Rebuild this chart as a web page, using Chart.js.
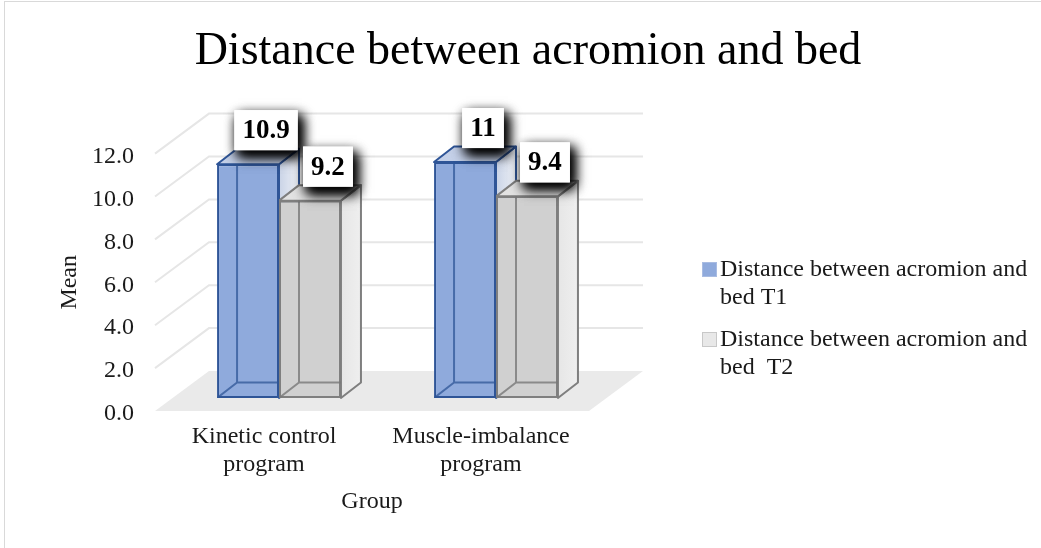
<!DOCTYPE html>
<html>
<head>
<meta charset="utf-8">
<script src="https://cdn.jsdelivr.net/npm/chart.js@4.4.1/dist/chart.umd.min.js"></script>
<style>
  html, body { margin: 0; padding: 0; background: #fff; }
  #wrap { position: relative; width: 1041px; height: 548px; overflow: hidden; }
  #frame { position: absolute; left: 4px; top: 1px; width: 1100px; height: 600px; border: 1px solid #d9d9d9; }
  canvas { position: absolute; left: 0; top: 0; }
</style>
</head>
<body>
<div id="wrap">
  <div id="frame"></div>
  <canvas id="chart" width="1041" height="548"></canvas>
</div>
<script>
// data
const categories  = [['Kinetic control', 'program'], ['Muscle-imbalance', 'program']];
const seriesNames = ['Distance between acromion and bed T1', 'Distance between acromion and bed  T2'];
const t1Values    = [10.9, 11];
const t2Values    = [9.2, 9.4];
const yTicks      = [0, 2, 4, 6, 8, 10, 12];

const SERIF = "'Times New Roman', 'Liberation Serif', serif";
Chart.defaults.font.family = SERIF;
Chart.defaults.color = '#1a1a1a';

// 3D offsets relative to the plane of the bars' front faces
const FRONT = { dx: -15.5, dy: 13 };   // front edge of floor
const BACK  = { dx: 38.5, dy: -27 };   // back wall
const DEPTH = { dx: 20, dy: -15.5 };   // bar depth

function poly(ctx, pts) {
    ctx.beginPath();
    ctx.moveTo(pts[0][0], pts[0][1]);
    for (let i = 1; i < pts.length; i++) ctx.lineTo(pts[i][0], pts[i][1]);
    ctx.closePath();
}

function barGeom(bar) {
    const p = bar.getProps(['x', 'y', 'base', 'width'], true);
    return { l: p.x - p.width / 2, r: p.x + p.width / 2, top: p.y, base: p.base, cx: p.x };
}

const box3d = {
    id: 'box3d',
    beforeDatasetsDraw(chart) {
        const { ctx, chartArea: a, scales: { y } } = chart;
        const y0 = y.getPixelForValue(0);
        ctx.save();

        // wall grid lines (side wall + back wall)
        ctx.strokeStyle = '#e6e6e6';
        ctx.lineWidth = 2;
        y.ticks.forEach(t => {
            if (t.value === 0) return;
            const py = y.getPixelForValue(t.value);
            ctx.beginPath();
            ctx.moveTo(a.left + FRONT.dx, py + FRONT.dy);
            ctx.lineTo(a.left + BACK.dx, py + BACK.dy);
            ctx.lineTo(a.right + BACK.dx, py + BACK.dy);
            ctx.stroke();
        });

        // floor
        ctx.fillStyle = '#eaeaea';
        poly(ctx, [
            [a.left + FRONT.dx, y0 + FRONT.dy], [a.right + FRONT.dx, y0 + FRONT.dy],
            [a.right + BACK.dx, y0 + BACK.dy], [a.left + BACK.dx, y0 + BACK.dy]
        ]);
        ctx.fill();

        // side and top faces of each bar
        chart.data.datasets.forEach((ds, i) => {
            chart.getDatasetMeta(i).data.forEach(bar => {
                const g = barGeom(bar);
                const side = [[g.r, g.top], [g.r + DEPTH.dx, g.top + DEPTH.dy], [g.r + DEPTH.dx, g.base + DEPTH.dy], [g.r, g.base]];
                const lid = [[g.l, g.top], [g.r, g.top], [g.r + DEPTH.dx, g.top + DEPTH.dy], [g.l + DEPTH.dx, g.top + DEPTH.dy]];
                ctx.lineWidth = 2;
                ctx.lineJoin = 'round';
                ctx.strokeStyle = ds.borderColor;
                const grad = ctx.createLinearGradient(g.r, 0, g.r + DEPTH.dx, 0);
                grad.addColorStop(0, ds.sideColor[0]);
                grad.addColorStop(1, ds.sideColor[1]);
                ctx.fillStyle = grad;
                poly(ctx, side); ctx.fill(); ctx.stroke();
                ctx.fillStyle = ds.topColor;
                poly(ctx, lid); ctx.fill(); ctx.stroke();
            });
        });
        ctx.restore();
    },
    afterDatasetsDraw(chart) {
        const { ctx } = chart;
        ctx.save();

        // hidden back edges, seen through the front face
        chart.data.datasets.forEach((ds, i) => {
            chart.getDatasetMeta(i).data.forEach(bar => {
                const g = barGeom(bar);
                ctx.save();
                ctx.beginPath();
                ctx.rect(g.l, g.top, g.r - g.l, g.base - g.top);
                ctx.clip();
                ctx.strokeStyle = ds.hiddenColor;
                ctx.lineWidth = 2;
                ctx.beginPath();
                ctx.moveTo(g.l + DEPTH.dx, g.top + DEPTH.dy);
                ctx.lineTo(g.l + DEPTH.dx, g.base + DEPTH.dy);
                ctx.lineTo(g.r + DEPTH.dx, g.base + DEPTH.dy);
                ctx.moveTo(g.l, g.base);
                ctx.lineTo(g.l + DEPTH.dx, g.base + DEPTH.dy);
                ctx.stroke();
                ctx.restore();
            });
        });

        // value labels in white boxes with a dark shadow
        ctx.font = 'bold 27px ' + SERIF;
        ctx.textAlign = 'center';
        ctx.textBaseline = 'middle';
        chart.data.datasets.forEach((ds, i) => {
            chart.getDatasetMeta(i).data.forEach((bar, j) => {
                const g = barGeom(bar);
                const txt = String(ds.data[j]);
                const w = ctx.measureText(txt).width + 16;
                const h = 40;
                const cx = g.cx + 18;
                const bottom = g.top + DEPTH.dy + 1.5;
                ctx.save();
                ctx.shadowColor = 'rgba(0,0,0,1)';
                ctx.shadowBlur = 12;
                ctx.shadowOffsetX = 4;
                ctx.shadowOffsetY = 6;
                ctx.fillStyle = '#fff';
                ctx.fillRect(cx - w / 2, bottom - h, w, h);
                ctx.fillRect(cx - w / 2, bottom - h, w, h);
                ctx.restore();
                ctx.fillStyle = '#fff';
                ctx.fillRect(cx - w / 2, bottom - h, w, h);
                ctx.fillStyle = '#000';
                ctx.fillText(txt, cx, bottom - h / 2 + 1);
            });
        });
        ctx.restore();
    },
    afterDraw(chart) {
        const { ctx, scales: { y }, chartArea: a } = chart;
        ctx.save();
        ctx.fillStyle = '#1a1a1a';
        ctx.font = '24px ' + SERIF;
        ctx.textAlign = 'center';
        ctx.textBaseline = 'middle';

        // axis titles, centred on the front plane
        const midY = (y.getPixelForValue(0) + y.getPixelForValue(12)) / 2 + FRONT.dy;
        ctx.save();
        ctx.translate(70, midY);
        ctx.rotate(-Math.PI / 2);
        ctx.fillText('Mean', 0, 0);
        ctx.restore();
        ctx.fillText('Group', (a.left + a.right) / 2 + FRONT.dx, 502);

        // legend with wrapped text
        ctx.textAlign = 'left';
        ctx.textBaseline = 'alphabetic';
        const legendX = 702, maxW = 315;
        let top = 262;
        chart.data.datasets.forEach(ds => {
            ctx.fillStyle = ds.legendFill;
            ctx.strokeStyle = ds.legendStroke;
            ctx.lineWidth = 1;
            ctx.fillRect(legendX, top, 15, 15);
            ctx.strokeRect(legendX + 0.5, top + 0.5, 14, 14);
            const words = ds.label.split(' ');
            const lines = [];
            let line = '';
            words.forEach(wd => {
                const test = line ? line + ' ' + wd : wd;
                if (ctx.measureText(test).width > maxW && line) { lines.push(line); line = wd; }
                else line = test;
            });
            lines.push(line);
            ctx.fillStyle = '#1a1a1a';
            lines.forEach((ln, k) => ctx.fillText(ln, legendX + 18, top + 13.5 + k * 28));
            top += 70;
        });
        ctx.restore();
    }
};

new Chart(document.getElementById('chart'), {
    type: 'bar',
    data: {
        labels: categories,
        datasets: [
            {
                label: seriesNames[0],
                data: t1Values,
                backgroundColor: '#8FAADC',
                borderColor: '#2F5597',
                borderWidth: 2,
                borderSkipped: false,
                sideColor: ['#C9D3E6', '#EEF1F7'],
                topColor: '#C4D0E8',
                hiddenColor: 'rgba(47,85,151,0.75)',
                legendFill: '#8FAADC',
                legendStroke: '#A9BCE2'
            },
            {
                label: seriesNames[1],
                data: t2Values,
                backgroundColor: '#D0D0D0',
                borderColor: '#7F7F7F',
                borderWidth: 2,
                borderSkipped: false,
                sideColor: ['#E6E6E6', '#EFEFEF'],
                topColor: '#E2E2E2',
                hiddenColor: 'rgba(120,120,120,0.8)',
                legendFill: '#E8E8E8',
                legendStroke: '#C8C8C8'
            }
        ]
    },
    options: {
        responsive: false,
        animation: false,
        devicePixelRatio: 1,
        layout: { padding: { left: 15, right: 0, top: 0, bottom: 0 } },
        datasets: { bar: { categoryPercentage: 0.571, barPercentage: 1 } },
        plugins: {
            legend: { display: false },
            tooltip: { enabled: false },
            title: {
                display: true,
                text: 'Distance between acromion and bed',
                color: '#000',
                font: { size: 46, weight: 'normal', family: SERIF },
                padding: { top: 24, bottom: 61.4 }
            }
        },
        scales: {
            x: {
                grid: { display: false, drawTicks: false },
                border: { display: false },
                ticks: {
                    font: { size: 24, lineHeight: 1.17 },
                    color: '#1a1a1a',
                    padding: 25,
                    labelOffset: -15,
                    maxRotation: 0,
                    autoSkip: false
                },
                afterFit: s => { s.height = 150; }
            },
            y: {
                min: 0,
                max: 12,
                afterBuildTicks: s => { s.ticks = yTicks.map(v => ({ value: v })); },
                grid: { display: false, drawTicks: false },
                border: { display: false },
                ticks: {
                    font: { size: 24 },
                    color: '#1a1a1a',
                    padding: 36.5,
                    labelOffset: 16,
                    callback: v => v.toFixed(1)
                },
                afterFit: s => { s.width = 155.5; }
            },
            legendSpace: {
                type: 'linear',
                position: 'right',
                display: true,
                grid: { display: false, drawTicks: false },
                border: { display: false },
                ticks: { display: false },
                afterFit: s => { s.width = 436.5; }
            }
        }
    },
    plugins: [box3d]
});
</script>
</body>
</html>
